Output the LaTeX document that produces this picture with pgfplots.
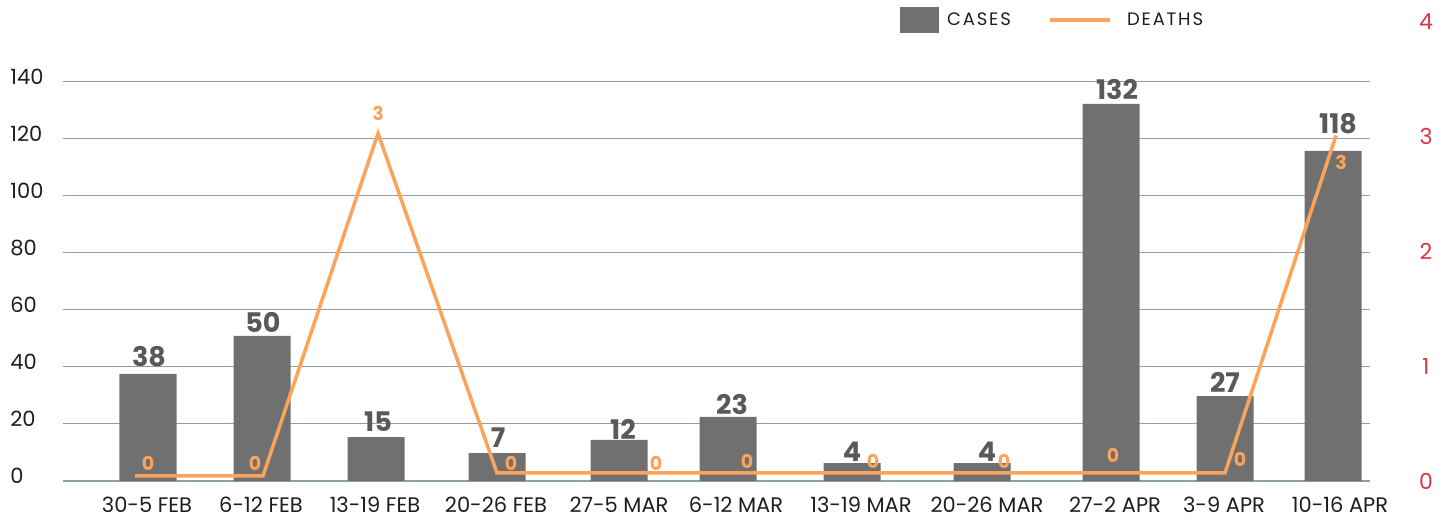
\documentclass[border=0pt]{standalone}
\usepackage{pgfplots}
\pgfplotsset{compat=1.18}
\usepackage{fontspec}
\setmainfont{Poppins}
\newfontfamily\legfont[LetterSpace=10]{Poppins}
\definecolor{barc}{RGB}{112,112,112}
\definecolor{lblc}{RGB}{89,89,89}
\definecolor{gridc}{RGB}{140,162,162}
\definecolor{deathc}{RGB}{250,163,92}
\definecolor{redc}{RGB}{222,52,62}
\definecolor{tickc}{RGB}{30,30,30}
\begin{document}
\begin{tikzpicture}
\useasboundingbox (-31.5pt,-19.5pt) rectangle (694pt,240.5pt);
\begin{axis}[
  scale only axis, width=653.5pt, height=229.5pt,
  at={(0,0)}, anchor=south west,
  xmin=63, xmax=1370, ymin=0, ymax=161.05,
  clip=false,
  /pgf/number format/assume math mode=true,
  axis line style={draw=none},
  major tick length=0pt,
  xtick={147,261,375,496,619,736,861,987,1115,1224,1340},
  xticklabels={30-5 FEB,6-12 FEB,13-19 FEB,20-26 FEB,27-5 MAR,6-12 MAR,13-19 MAR,20-26 MAR,27-2 APR,3-9 APR,10-16 APR},
  ytick={0,20,...,140},
  ytick pos=left, xtick pos=bottom,
  ymajorgrids, grid style={gridc, line width=0.5pt},
  tick label style={font=\fontsize{10.5}{12}\selectfont, text=tickc},
  yticklabel style={anchor=west, inner sep=0pt, xshift=-26.5pt, yshift=2.5pt},
  xticklabel style={anchor=center, inner sep=0pt, yshift=-12pt},
  legend style={at={(0.7565,1.004)}, anchor=center, draw=none, fill=none,
    legend columns=2, font=\legfont\fontsize{9}{10}\selectfont, text=tickc,
    nodes={inner sep=0pt},
    /tikz/every odd column/.append style={column sep=0pt},
    /tikz/every even column/.append style={column sep=18.5pt}},
  legend cell align=left,
]
\draw[gridc, line width=1.3pt] (axis cs:63,0) -- (axis cs:1370,0);
\addlegendimage{legend image code/.code={\fill[barc] (0pt,-6.25pt) rectangle (19pt,6.25pt); \path (23pt,0pt);}}
\addlegendentry{CASES}
\addlegendimage{legend image code/.code={\draw[deathc, line width=2pt] (0pt,0pt) -- (30pt,0pt); \path (38.5pt,0pt);}}
\addlegendentry{DEATHS}
\addplot[ybar, bar width=57, fill=barc, draw=none, forget plot] coordinates {
  (148,37.6) (262,50.9) (376,15.4) (497,9.8) (619,14.4) (728,22.5)
  (852,6.3) (982,6.3) (1111,132.3) (1225,29.8) (1333,115.8)};
% case labels
\addplot[draw=none, forget plot, nodes near coords, point meta=explicit symbolic,
  every node near coord/.append style={anchor=center, inner sep=0pt,
    font=\bfseries\fontsize{13.5}{15}\selectfont, text=lblc}]
  table[meta=l] {
x y l
149 43.5 38
263 55.8 50
378 20.7 15
498 15.1 7
623 18.2 12
732 26.7 23
852 10.2 4
987 10.2 4
1117 137.2 132
1225 34.7 27
1338 125.3 118
};
% death labels
\addplot[draw=none, forget plot, nodes near coords, point meta=explicit symbolic,
  every node near coord/.append style={anchor=center, inner sep=0pt,
    font=\bfseries\fontsize{9.5}{11}\selectfont, text=deathc}]
  table[meta=l] {
x y l
148 6.0 0
255 6.0 0
378 129.1 3
511 6.0 0
656 6.0 0
747 7.0 0
873 7.0 0
1004 7.0 0
1113 8.8 0
1240 7.4 0
1341 111.9 3
};
\end{axis}
\begin{axis}[
  scale only axis, width=653.5pt, height=229.5pt,
  at={(0,0)}, anchor=south west,
  xmin=63, xmax=1370, ymin=0, ymax=4,
  clip=false,
  /pgf/number format/assume math mode=true,
  axis x line=none, axis y line*=right,
  axis line style={draw=none},
  major tick length=0pt,
  ytick={0,1,2,3,4},
  yticklabel style={anchor=center, inner sep=0pt, xshift=28pt, text=redc,
    font=\fontsize{11}{13}\selectfont},
]
\addplot[deathc, line width=1.75pt, mark=none] coordinates {
  (135,0.044) (263,0.044) (378,3.03) (497,0.07) (619,0.07) (728,0.07)
  (852,0.07) (982,0.07) (1111,0.07) (1225,0.07) (1336,3.01)};
\end{axis}
\end{tikzpicture}
\end{document}
